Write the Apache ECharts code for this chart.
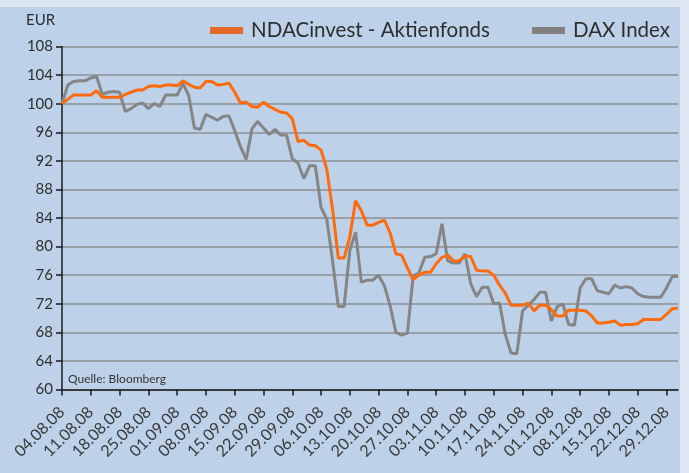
<!DOCTYPE html>
<html>
<head>
<meta charset="utf-8">
<script src="https://cdn.jsdelivr.net/npm/echarts@6/dist/echarts.min.js"></script>
<style>
  html, body { margin: 0; padding: 0; background: #dde7f1; }
  #chart { width: 689px; height: 473px; }
</style>
</head>
<body>
<div id="chart"></div>
<script>
// weekly tick labels (Mondays), one every 5 business days
const weekLabels = ['04.08.08', '11.08.08', '18.08.08', '25.08.08', '01.09.08', '08.09.08',
  '15.09.08', '22.09.08', '29.09.08', '06.10.08', '13.10.08', '20.10.08', '27.10.08',
  '03.11.08', '10.11.08', '17.11.08', '24.11.08', '01.12.08', '08.12.08', '15.12.08',
  '22.12.08', '29.12.08']

// daily closes, 04.08.08 - 31.12.08, rebased to 100
const ndacValues = [
  100, 100.6, 101.2, 101.2, 101.2, 101.2, 101.8, 100.9, 100.9, 100.9,
  100.9, 101.3, 101.6, 101.9, 101.9, 102.4, 102.5, 102.4, 102.6, 102.6,
  102.5, 103.2, 102.7, 102.3, 102.2, 103.1, 103.1, 102.6, 102.7, 102.9,
  101.6, 100.1, 100.2, 99.6, 99.5, 100.2, 99.6, 99.2, 98.8, 98.7,
  97.9, 94.7, 94.9, 94.2, 94.1, 93.5, 90.8, 85.2, 78.4, 78.4,
  81.4, 86.4, 85.0, 83.0, 83.0, 83.4, 83.7, 81.9, 79.0, 78.8,
  77.0, 75.4, 76.0, 76.4, 76.4, 77.6, 78.5, 78.8, 78.0, 78.0,
  78.7, 78.6, 76.7, 76.6, 76.6, 76.0, 74.6, 73.5, 71.8, 71.8,
  71.8, 72.1, 71.0, 71.8, 71.8, 71.2, 70.3, 70.3, 71.1, 71.1,
  71.1, 71.0, 70.3, 69.3, 69.3, 69.4, 69.6, 69.0, 69.1, 69.1,
  69.2, 69.8, 69.8, 69.8, 69.8, 70.5, 71.3, 71.4
]
const daxValues = [
  100, 102.6, 103.1, 103.2, 103.2, 103.6, 103.8, 101.3, 101.6, 101.7,
  101.6, 98.9, 99.3, 99.9, 100.1, 99.3, 100.0, 99.6, 101.2, 101.2,
  101.2, 102.8, 101.2, 96.6, 96.4, 98.5, 98.1, 97.7, 98.2, 98.3,
  96.2, 94.0, 92.2, 96.5, 97.5, 96.6, 95.7, 96.4, 95.6, 95.6,
  92.3, 91.7, 89.5, 91.3, 91.3, 85.5, 83.8, 78.0, 71.6, 71.6,
  79.5, 82.0, 75.0, 75.3, 75.3, 76.0, 74.5, 71.7, 68.0, 67.6,
  67.9, 75.9, 76.3, 78.5, 78.6, 79.0, 83.2, 78.0, 77.7, 77.7,
  79.0, 74.8, 73.0, 74.3, 74.3, 72.0, 72.1, 67.7, 65.1, 65.0,
  71.0, 71.8, 72.6, 73.6, 73.6, 69.6, 71.6, 72.0, 69.1, 69.0,
  74.2, 75.5, 75.5, 73.8, 73.6, 73.4, 74.6, 74.2, 74.4, 74.2,
  73.4, 73.0, 72.9, 72.9, 72.9, 74.2, 75.8, 75.8
]

const seriesNames = ['NDACinvest - Aktienfonds', 'DAX Index']

// category per business day, label only on the Mondays
var days = []
for (var i = 0; i < ndacValues.length; i++) {
  days.push(i % 5 === 0 ? weekLabels[i / 5] : 'd' + i)
}
var showWeek = function (index) { return index % 5 === 0 }

var txt = '#2e2e2e'
var font = 'Lato'

var myChart = echarts.init(document.getElementById('chart'))
var option = {
  backgroundColor: '#dde7f1',
  animation: false,
  textStyle: { fontFamily: font },
  graphic: [
    {
      type: 'rect', z: -10, silent: true,
      shape: { x: 0, y: 7, width: 680, height: 466 },
      style: { fill: '#bdd2e8' }
    },
    {
      type: 'text', left: 26, top: 13,
      style: { text: 'EUR', fontSize: 15, fill: txt, fontFamily: font }
    },
    {
      type: 'text', left: 68, top: 373,
      style: { text: 'Quelle: Bloomberg', fontSize: 12, fill: '#333', fontFamily: font }
    }
  ],
  legend: {
    top: 15,
    right: 14,
    icon: 'rect',
    itemWidth: 33,
    itemHeight: 7,
    itemGap: 42,
    textStyle: { fontSize: 20.5, color: txt, fontFamily: font, padding: [0, 0, 0, 3] },
    data: [
      { name: seriesNames[0], itemStyle: { color: '#e66a26' } },
      { name: seriesNames[1], itemStyle: { color: '#808080' } }
    ]
  },
  grid: { left: 62, right: 11, top: 46.5, bottom: 83.5, containLabel: false },
  xAxis: {
    type: 'category',
    boundaryGap: false,
    data: days,
    axisLine: { lineStyle: { color: '#1a1a1a', width: 1.5 } },
    axisTick: { show: true, interval: showWeek, length: 6, lineStyle: { color: '#1a1a1a', width: 1.5 } },
    axisLabel: {
      interval: showWeek,
      rotate: 45,
      margin: 20,
      fontSize: 16,
      color: '#383838',
      fontFamily: font
    },
    splitLine: { show: false }
  },
  yAxis: {
    type: 'value',
    min: 60,
    max: 108,
    interval: 4,
    axisLine: { show: true, lineStyle: { color: '#1a1a1a', width: 1.5 } },
    axisTick: { show: true, length: 6, lineStyle: { color: '#1a1a1a', width: 1.5 } },
    axisLabel: { fontSize: 15, color: txt, margin: 9, fontFamily: font },
    splitLine: { lineStyle: { color: '#9aa0a8', width: 2 } }
  },
  series: [
    {
      name: seriesNames[0],
      type: 'line',
      data: ndacValues,
      symbol: 'none',
      z: 3,
      itemStyle: { color: '#ff6a0d' },
      lineStyle: { color: '#ff6a0d', width: 3 }
    },
    {
      name: seriesNames[1],
      type: 'line',
      data: daxValues,
      symbol: 'none',
      z: 2,
      itemStyle: { color: '#858585' },
      lineStyle: { color: '#858585', width: 3 }
    }
  ]
}
myChart.setOption(option)
</script>
</body>
</html>
